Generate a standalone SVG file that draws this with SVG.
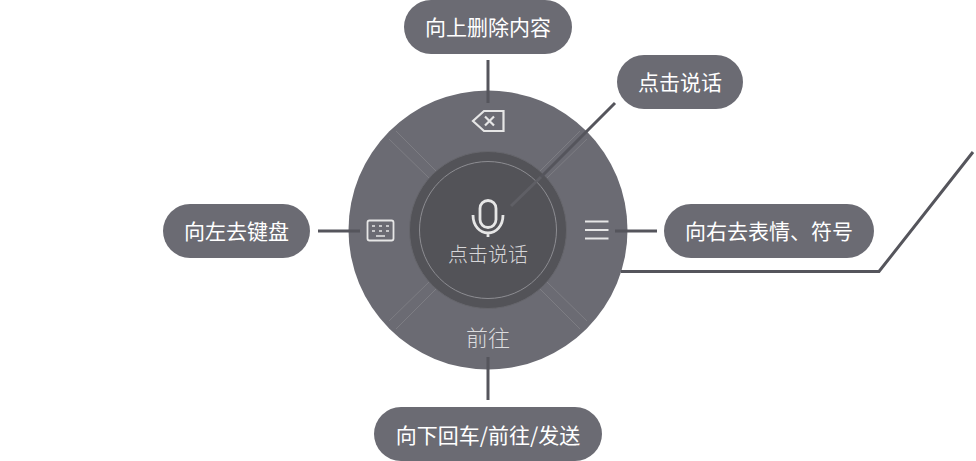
<svg xmlns="http://www.w3.org/2000/svg" width="976" height="461" viewBox="0 0 976 461">
<style>
text{font-family:"Noto Sans CJK SC","Noto Sans",sans-serif;text-anchor:middle;font-weight:300}
.lab{font-size:21px;fill:#fff;font-weight:400}
.pill{fill:#6b6b73}
.c{stroke:#55555c;stroke-width:3;fill:none}
.sep{stroke:#7d7d83;stroke-width:1;fill:none}
.ic{stroke:#e6e6e6;fill:none}
</style>
<g id="wheel">
<circle cx="488" cy="230" r="139.500" fill="#6b6b73"/>
<g class="sep">
<path d="M436 171L396 131M429 178L389 139"/>
<path d="M540 171L580 131M547 178L587 139"/>
<path d="M429 282L389 321M436 289L396 329"/>
<path d="M547 282L587 321M540 289L580 329"/>
</g>
<circle cx="488" cy="230" r="78.500" fill="#535358" stroke="#66666c" stroke-width="1"/>
<circle cx="488" cy="230" r="68.500" fill="#535358" stroke="#8d8d92" stroke-width="1"/>
</g>
<g id="delete-icon" class="ic" stroke-width="2.200">
<path d="M503.500 111V131H484L473 121L484 111Z"/>
<path d="M485 116.500L494 125.500M494 116.500L485 125.500"/>
</g>
<g id="keyboard-icon">
<rect x="367.500" y="220.500" width="26" height="20" rx="2" class="ic" stroke-width="1.800"/>
<path d="M372 226h3M379 226h3M386 226h3M372 231h3M379 231h3M386 231h3M376 236h9" stroke="#e6e6e6" stroke-width="1.400"/>
</g>
<g id="menu-icon" class="ic" stroke-width="1.800">
<path d="M585 221.500H608.500M585 230H608.500M585 238.500H608.500"/>
</g>
<g id="center">
<g class="ic" stroke-width="2.800">
<rect x="480" y="200.500" width="16" height="27" rx="8"/>
<path d="M473 215C473 226 480 233 488 233C496 233 503 226 503 215M488 233V237"/>
</g>
<text x="488" y="262" font-size="20" fill="#d6d6d8">点击说话</text>
</g>
<g id="goto-label"><text x="488" y="346" font-size="22" fill="#dcdcde">前往</text></g>
<g id="connectors">
<path class="c" d="M488 60V103"/>
<path class="c" d="M488 357V400"/>
<path class="c" d="M318 231H360"/>
<path class="c" d="M615 231H657"/>
<path class="c" d="M615 103L541 177"/>
<path d="M541 177L511 206" stroke="#5f5f65" stroke-width="3" fill="none"/>
<path class="c" d="M621 271.500H879L973 152"/>
</g>
<g id="n-up"><rect class="pill" x="404" y="0" width="168" height="54" rx="27"/><text class="lab" x="488" y="35">向上删除内容</text></g>
<g id="n-tap"><rect class="pill" x="617" y="55" width="126" height="54" rx="27"/><text class="lab" x="680" y="90">点击说话</text></g>
<g id="n-left"><rect class="pill" x="163" y="204" width="147" height="54" rx="27"/><text class="lab" x="236.500" y="239">向左去键盘</text></g>
<g id="n-right"><rect class="pill" x="664" y="204" width="210" height="54" rx="27"/><text class="lab" x="769" y="239">向右去表情、符号</text></g>
<g id="n-down"><rect class="pill" x="374" y="407" width="228" height="54" rx="27"/><text class="lab" x="488" y="443">向下回车/前往/发送</text></g>
</svg>
